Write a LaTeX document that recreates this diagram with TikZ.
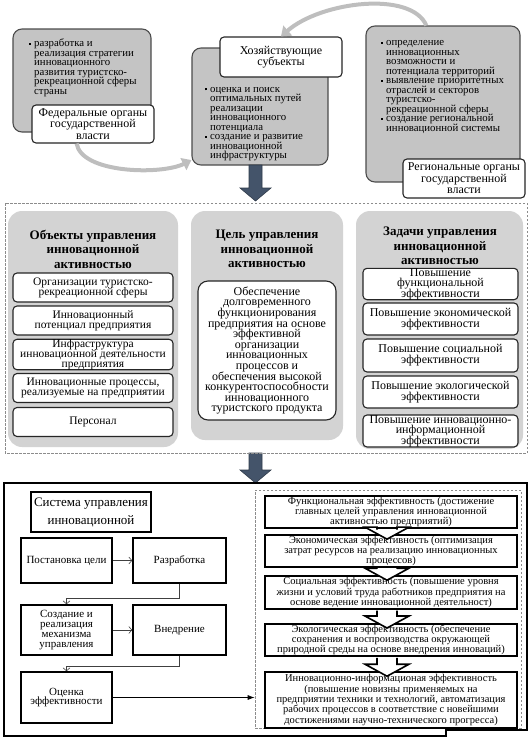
\documentclass[tikz,border=0pt]{standalone}
\usepackage{fontspec}
\setmainfont{Liberation Serif}
\usetikzlibrary{arrows.meta, calc}
\definecolor{slateblue}{HTML}{44546A}
\definecolor{boxgray}{HTML}{C4C4C4}
\definecolor{panelgray}{HTML}{D3D3D3}
\definecolor{arcgray}{HTML}{BEBEBE}
\newcommand{\bul}{\llap{\raisebox{2pt}{\rule{2.2pt}{2.2pt}}\hspace{3pt}}\vphantom{Б}}
\newcommand{\tight}{\lineskiplimit=-\maxdimen}
\tikzset{
  topbox/.style={rectangle, rounded corners=9pt, draw=black!70, fill=boxgray, line width=1.1pt},
  lblbox/.style={rectangle, rounded corners=4pt, draw=black!85, fill=white, line width=1.1pt,
                 align=center, inner sep=1pt, font=\fontsize{12}{11.5}\selectfont\tight},
  blist/.style={anchor=north west, align=left, inner sep=0pt, font=\fontsize{10.8}{9.5}\selectfont\tight},
  curvearr/.style={draw=arcgray, line width=4pt, -{Triangle[length=9pt,width=13pt]}},
  bigarr/.style={fill=slateblue, draw=slateblue!70!black, line width=0.6pt},
  panel/.style={rectangle, fill=panelgray, rounded corners=14pt},
  ptitle/.style={align=center, inner sep=0pt, font=\fontsize{13}{14.5}\selectfont\bfseries\tight},
  obox/.style={rectangle, rounded corners=4pt, draw=black!85, fill=white, line width=1.1pt,
               align=center, inner sep=0pt, font=\fontsize{11.5}{10}\selectfont\tight},
  dashframe/.style={draw=black!45, dash pattern=on 2.5pt off 1.5pt, line width=0.6pt},
  sysbox/.style={rectangle, draw, line width=2.4pt, align=center, font=\fontsize{13}{18}\selectfont},
  stepbox/.style={rectangle, draw, line width=1.6pt, align=center, inner sep=1pt,
                  font=\fontsize{11}{9.7}\selectfont\tight},
  effbox/.style={rectangle, draw, line width=1.6pt, fill=white, align=center, minimum width=252pt,
                 inner xsep=2pt, inner ysep=1pt, font=\fontsize{10.5}{10.3}\selectfont\tight},
  flow/.style={draw=black!75, line width=0.6pt, -{Straight Barb[length=3pt,width=7pt]}},
  hollow/.style={draw, line width=1.6pt, fill=white, line join=miter},
}
\begin{document}
\begin{tikzpicture}[x=1pt, y=-1pt]
  \useasboundingbox (0,0) rectangle (531,740);

  % --- top: actors ---
  \node[topbox, minimum width=138pt, minimum height=103pt] (fedbox) at (82,80.5) {};
  \node[blist] (fedlist) at (34,39) {\bul разработка и\\реализация стратегии\\инновационного\\развития туристско-\\рекреационной сферы\\страны};
  \node[lblbox, minimum width=122pt, minimum height=38pt] (fed) at (93,124) {Федеральные органы\\государственной\\власти};

  \node[topbox, minimum width=136pt, minimum height=117pt] (firmbox) at (260,106.5) {};
  \node[lblbox, minimum width=122pt, minimum height=40pt] (firm) at (281,57) {Хозяйствующие\\субъекты};
  \node[blist] (firmlist) at (210,85) {\bul оценка и поиск\\оптимальных путей\\реализации\\инновационного\\потенциала\\\bul создание и развитие\\инновационной\\инфраструктуры};

  \node[topbox, minimum width=154pt, minimum height=156pt] (regbox) at (443,104) {};
  \node[blist] (reglist) at (386,38.5) {\bul определение\\инновационных\\возможности и\\потенциала территорий\\\bul выявление приоритетных\\отраслей и секторов\\туристско-\\рекреационной сферы\\\bul создание региональной\\инновационной системы};
  \node[lblbox, minimum width=122pt, minimum height=39pt] (reg) at (464,178.5) {Региональные органы\\государственной\\власти};

  \draw[curvearr] (fed.230) .. controls +(5,30) and +(-30,15) .. (firmbox.218);
  \draw[curvearr] (regbox.102) .. controls +(-15,-35) and +(40,-35) .. (firm.north);

  % block arrows between the parts
  \foreach \ya/\yb in {165/201, 453/483}
    \draw[bigarr] (249,\ya) -- (249,\yb-13) -- (240,\yb-13) -- (255.5,\yb) -- (271,\yb-13) -- (262,\yb-13) -- (262,\ya) -- cycle;

  % --- middle: objects, goal, tasks ---
  \draw[dashframe] (5,203) rectangle (527,453);
  \node[panel, minimum width=170pt, minimum height=236pt] (objpanel) at (93,329) {};
  \node[panel, minimum width=152pt, minimum height=229pt] (goalpanel) at (267,325.5) {};
  \node[panel, minimum width=167pt, minimum height=238pt] (taskpanel) at (439.5,330) {};

  \node[ptitle] (objttl) at (93,249) {Объекты управления\\инновационной\\активностью};
  \node[ptitle] (goalttl) at (267,249) {Цель управления\\инновационной\\активностью};
  \node[ptitle] (taskttl) at (440,246) {Задачи управления\\инновационной\\активностью};

  \node[obox, minimum width=160pt, minimum height=29pt] (obj1) at (93,287.5) {Организации туристско-\\рекреационной сферы};
  \node[obox, minimum width=160pt, minimum height=29pt] (obj2) at (93,320.5) {Инновационный\\потенциал предприятия};
  \node[obox, minimum width=160pt, minimum height=29pt] (obj3) at (93,354.5) {Инфраструктура\\инновационной деятельности\\предприятия};
  \node[obox, minimum width=160pt, minimum height=29pt] (obj4) at (93,388) {Инновационные процессы,\\реализуемые на предприятии};
  \node[obox, minimum width=160pt, minimum height=29pt] (obj5) at (93,422) {Персонал};

  \node[obox, rounded corners=10pt, minimum width=138pt, minimum height=139pt,
        font=\fontsize{12}{10.6}\selectfont\tight] (goaltxt) at (267,350.5)
    {Обеспечение\\долговременного\\функционирования\\предприятия на основе\\эффективной\\организации\\инновационных\\процессов и\\обеспечения высокой\\конкурентоспособности\\инновационного\\туристского продукта};

  \node[obox, minimum width=155pt, minimum height=31pt, font=\fontsize{12}{10.5}\selectfont\tight] (task1) at (440.5,284) {Повышение\\функциональной\\эффективности};
  \node[obox, minimum width=155pt, minimum height=32pt, font=\fontsize{12}{11}\selectfont\tight] (task2) at (440.5,319) {Повышение экономической\\эффективности};
  \node[obox, minimum width=155pt, minimum height=33pt, font=\fontsize{12}{11}\selectfont\tight] (task3) at (440.5,355.5) {Повышение социальной\\эффективности};
  \node[obox, minimum width=155pt, minimum height=32pt, font=\fontsize{12}{11}\selectfont\tight] (task4) at (440.5,392) {Повышение экологической\\эффективности};
  \node[obox, minimum width=155pt, minimum height=32pt, font=\fontsize{12}{10.5}\selectfont\tight] (task5) at (440.5,431) {Повышение инновационно-\\информационной\\эффективности};

  % --- bottom: management system ---
  \draw[line width=2.6pt] (4,483) -- (527,483) -- (527,730) -- (446,730) -- (446,736) -- (4,736) -- cycle;
  \node[dashframe, rectangle, minimum width=266pt, minimum height=238pt, inner sep=0pt] (effarea) at (388,609) {};

  \node[sysbox, minimum width=112pt, minimum height=40pt] (sys) at (91,512) {Система управления\\инновационной};
  \node[stepbox, minimum width=91pt, minimum height=45pt] (goal) at (66.5,560.5) {Постановка цели};
  \node[stepbox, minimum width=93pt, minimum height=45pt] (dev) at (179.5,560.5) {Разработка};
  \node[stepbox, minimum width=91pt, minimum height=50pt] (mech) at (66.5,630) {Создание и\\реализация\\механизма\\управления};
  \node[stepbox, minimum width=93pt, minimum height=50pt] (impl) at (179.5,630) {Внедрение};
  \node[stepbox, minimum width=91pt, minimum height=51pt] (eval) at (66.5,697.5) {Оценка\\эффективности};

  \draw[flow] (goal) -- (dev);
  \draw[flow] (dev.south) -- ++(0,14) -| (mech.north);
  \draw[flow] (mech) -- (impl);
  \draw[flow] (impl.south) -- ++(0,10) -| (eval.north);
  \draw[-{Latex[length=7pt,width=5pt]}, line width=0.8pt] (eval.east) -- (eval.east -| effarea.west);

  \node[effbox, minimum height=30pt] (e1) at (391,512) {Функциональная эффективность (достижение\\главных целей управления инновационной\\активностью предприятий)};
  \node[effbox, minimum height=28pt] (e2) at (391,551) {Экономическая эффективность (оптимизация\\затрат ресурсов на реализацию инновационных\\процессов)};
  \node[effbox, minimum height=33pt] (e3) at (391,592.5) {Социальная эффективность (повышение уровня\\жизни и условий труда работников предприятия на\\основе ведение инновационной деятельност)};
  \node[effbox, minimum height=30pt] (e4) at (391,640) {Экологическая эффективность (обеспечение\\сохранения и воспроизводства окружающей\\природной среды на основе внедрения инноваций)};
  \node[effbox, minimum height=56pt] (e5) at (391,700) {Инновационно-информационая эффективность\\(повышение новизны применяемых на\\предприятии техники и технологий, автоматизация\\рабочих процессов в соответствие с новейшими\\достижениями научно-технического прогресса)};

  \foreach \a/\b in {e1/e2, e2/e3, e3/e4, e4/e5}
    \draw[hollow] ($(\a.south)+(-14,0.8)$) -- ($(\b.north)+(-14,-7)$) -- ++(-12,0)
      -- ($(\b.north)+(-4,5)$) -- ($(\b.north)+(18,-7)$) -- ++(-12,0) -- ($(\a.south)+(6,0.8)$);
\end{tikzpicture}
\end{document}
